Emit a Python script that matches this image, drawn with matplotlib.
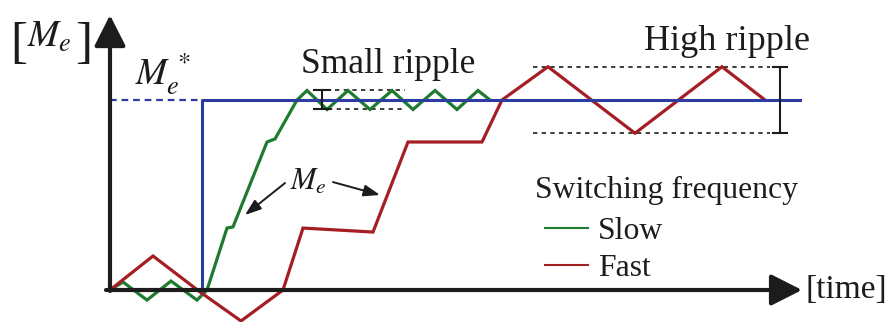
import matplotlib
matplotlib.use("Agg")
import matplotlib.pyplot as plt
from matplotlib.lines import Line2D

plt.rcParams["mathtext.fontset"] = "stix"
plt.rcParams["font.family"] = ["Liberation Serif", "DejaVu Serif"]

# Torque normalised to the reference M_e*, time in arbitrary units
ref_level = 1.0
ref_step_time = 9.2
ref_end_time = 69.0

slow_t = [0, 1.3, 3.7, 6.1, 8.7, 9.7, 11.7, 12.3, 15.7, 16.5, 18.7, 19.7,
          21.7, 23.8, 26.0, 28.2, 30.3, 32.5, 34.7, 36.8, 38.0]
slow_m = [0, 0.042, -0.053, 0.047, -0.053, 0, 0.326, 0.332, 0.779, 0.795,
          1.0, 1.05, 0.95, 1.05, 0.95, 1.05, 0.95, 1.05, 0.95, 1.05, 1.0]

fast_t = [0, 4.3, 9.0, 13.1, 17.3, 19.3, 26.3, 29.8, 37.2, 39.2, 43.8,
          52.5, 61.2, 65.5]
fast_m = [0, 0.179, -0.01, -0.163, 0, 0.326, 0.305, 0.779, 0.779, 1.0,
          1.175, 0.825, 1.175, 1.0]

small_band = [0.95, 1.05]
high_band = [0.825, 1.175]

GREEN = "#1e7b30"
RED = "#a41e24"
BLUE = "#2d3c9f"
INK = "#1c1c1c"

fig = plt.figure(figsize=(8.9, 3.22), dpi=100)
ax = fig.add_axes([0, 0, 1, 1])
ax.set_xlim(-11, 78)
ax.set_ylim(-0.1684, 1.5263)
ax.axis("off")

# torque trajectories
ax.plot(slow_t, slow_m, color=GREEN, lw=2.3, solid_joinstyle="miter",
        label="Slow", zorder=3)
ax.plot(fast_t, fast_m, color=RED, lw=2.3, solid_joinstyle="miter",
        label="Fast", zorder=3)

# reference step
ax.plot([0, ref_step_time], [ref_level, ref_level], color=BLUE, lw=1.6,
        ls=(0, (3, 2.2)), zorder=4)
ax.plot([ref_step_time, ref_step_time, ref_end_time],
        [0, ref_level, ref_level], color=BLUE, lw=2.2, zorder=4)

# ripple envelopes
dash = (0, (2.6, 2.6))
ax.plot([22.5, 29.5], [small_band[1]] * 2, color=INK, lw=1.2, ls=dash, zorder=2)
ax.plot([21.8, 29.5], [small_band[0]] * 2, color=INK, lw=1.2, ls=dash, zorder=2)
ax.plot([42.3, 66.0], [high_band[1]] * 2, color=INK, lw=1.2, ls=dash, zorder=2)
ax.plot([42.3, 66.0], [high_band[0]] * 2, color=INK, lw=1.2, ls=dash, zorder=2)


def range_bar(t, lo, hi, half):
    ax.plot([t, t], [lo, hi], color=INK, lw=1.5, zorder=5)
    ax.plot([t - half, t + half], [lo, lo], color=INK, lw=1.5, zorder=5)
    ax.plot([t - half, t + half], [hi, hi], color=INK, lw=1.5, zorder=5)


range_bar(21.2, small_band[0], small_band[1], 0.8)
range_bar(67.0, high_band[0], high_band[1], 0.7)

# coordinate axes with arrow heads
arrow = dict(arrowstyle="-|>,head_length=0.95,head_width=0.48",
             mutation_scale=20, lw=3, color=INK, shrinkA=0, shrinkB=0)
ax.annotate("", xy=(0, 1.447), xytext=(0, -0.005), arrowprops=arrow, zorder=6)
ax.annotate("", xy=(69.2, 0), xytext=(-0.4, 0), arrowprops=arrow, zorder=6)

# axis labels
ax.text(-9.15, 1.29, "[", fontsize=37, color=INK, ha="center", va="center")
ax.text(-2.6, 1.29, "]", fontsize=37, color=INK, ha="center", va="center")
ax.text(-8.3, 1.279, r"$M_e$", fontsize=27, color=INK, ha="left",
        va="baseline")
ax.text(2.5, 1.079, r"$M_e^{\,*}$", fontsize=27, color=INK, ha="left",
        va="baseline")
ax.text(69.5, 0.0, "[time]", fontsize=24, color=INK, ha="left", va="center")

# ripple annotations
ax.text(27.8, 1.142, "Small ripple", fontsize=25.5, color=INK,
        ha="center", va="baseline")
ax.text(61.65, 1.263, "High ripple", fontsize=26, color=INK,
        ha="center", va="baseline")

ax.text(19.8, 0.57, r"$M_e$", fontsize=22, color=INK, ha="center", va="center")
thin = dict(arrowstyle="-|>,head_length=0.7,head_width=0.25",
            mutation_scale=14, lw=1.4, color=INK, shrinkA=0, shrinkB=0)
ax.annotate("", xy=(13.5, 0.395), xytext=(17.5, 0.563), arrowprops=thin)
ax.annotate("", xy=(27.0, 0.50), xytext=(22.3, 0.568), arrowprops=thin)

# legend
ax.text(42.5, (290 - 198) / 190, "Switching frequency", fontsize=22.8,
        color=INK, ha="left", va="baseline")
handles = [Line2D([], [], color=GREEN, lw=1.5), Line2D([], [], color=RED, lw=1.5)]
leg = ax.legend(handles, ["Slow", "Fast"],
                loc="upper left", bbox_to_anchor=(545 / 890, 1 - 217 / 322),
                frameon=False, fontsize=22.8,
                handlelength=1.36, handletextpad=0.32, labelspacing=0.25,
                borderpad=0, borderaxespad=0)
for txt in leg.get_texts():
    txt.set_color(INK)

fig.savefig("out.png", dpi=100)
